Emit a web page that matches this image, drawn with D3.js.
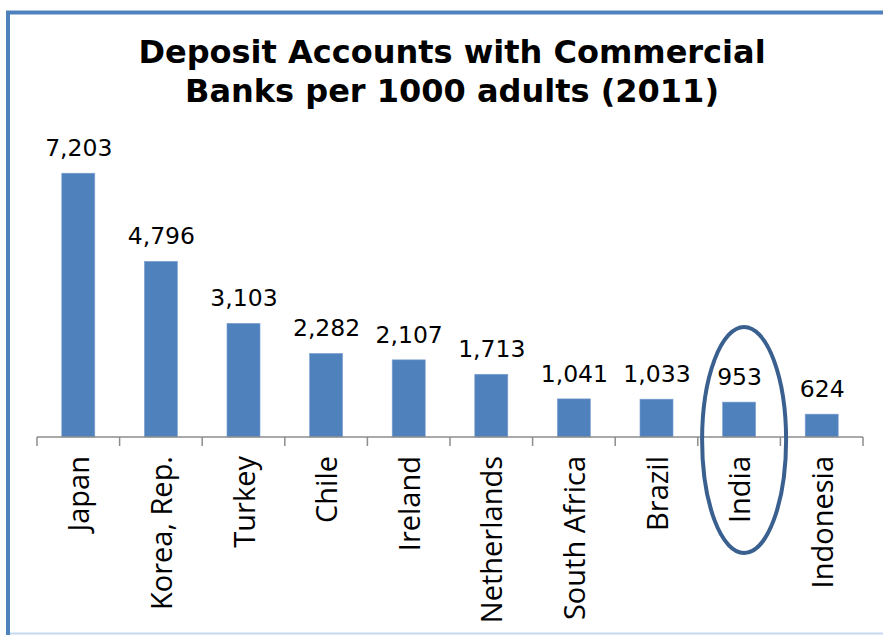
<!DOCTYPE html>
<html>
<head>
<meta charset="utf-8">
<script src="https://cdn.jsdelivr.net/npm/d3@7"></script>
<style>
  html, body { margin: 0; padding: 0; background: #fff; }
  svg { display: block; }
</style>
</head>
<body>
<svg id="chart" width="883" height="635"></svg>
<script>
// Deposit accounts with commercial banks per 1000 adults, 2011
const countries = ["Japan", "Korea, Rep.", "Turkey", "Chile", "Ireland",
                   "Netherlands", "South Africa", "Brazil", "India", "Indonesia"];
const accounts = [7203, 4796, 3103, 2282, 2107, 1713, 1041, 1033, 953, 624];
const titleLines = ["Deposit Accounts with Commercial", "Banks per 1000 adults (2011)"];
const highlighted = ["India"];

const W = 883, H = 635;
const svg = d3.select("#chart");

// outer frame: left and top edges dark blue, bottom edge pale
svg.append("path")
  .attr("d", `M8,${H} L8,12.5 L${W + 10},12.5`)
  .attr("fill", "none")
  .attr("stroke", "#4f81bd")
  .attr("stroke-width", 4);
svg.append("line")
  .attr("x1", 10).attr("x2", W)
  .attr("y1", 633.5).attr("y2", 633.5)
  .attr("stroke", "#c6d9f1")
  .attr("stroke-width", 2);

// title
const title = svg.append("text")
  .attr("text-anchor", "middle")
  .attr("font-family", "DejaVu Sans, Verdana, sans-serif")
  .attr("font-weight", "bold")
  .attr("font-size", 32)
  .attr("fill", "#000");
titleLines.forEach((line, i) => {
  title.append("tspan")
    .attr("x", 452)
    .attr("y", 63 + i * 39)
    .text(line);
});

// scales
const x = d3.scaleBand().domain(countries).range([37, 863]).padding(0);
const y = d3.scaleLinear().domain([0, 8000]).range([437, 144]);
const step = x.step();
const barW = step * 0.4;

// bars
svg.append("g").selectAll("rect")
  .data(countries)
  .join("rect")
  .attr("x", (d) => x(d) + (step - barW) / 2)
  .attr("width", barW)
  .attr("y", (d, i) => y(accounts[i]))
  .attr("height", (d, i) => y(0) - y(accounts[i]))
  .attr("fill", "#4f81bd")
  .attr("stroke", "#7fa3d0")
  .attr("stroke-width", 0.6);

// value labels
const fmt = d3.format(",");
svg.append("g").selectAll("text")
  .data(countries)
  .join("text")
  .attr("x", (d) => x(d) + step / 2 + 0.5)
  .attr("y", (d, i) => y(accounts[i]) - 17)
  .attr("text-anchor", "middle")
  .attr("font-family", "DejaVu Sans, Verdana, sans-serif")
  .attr("font-size", 23.5)
  .attr("fill", "#000")
  .text((d, i) => fmt(accounts[i]));

// category axis with ticks at band boundaries
const axis = svg.append("g");
axis.append("line")
  .attr("x1", x.range()[0]).attr("x2", x.range()[1])
  .attr("y1", y(0)).attr("y2", y(0))
  .attr("stroke", "#8c8c8c").attr("stroke-width", 1.5);
const boundaries = countries.map((d) => x(d)).concat([x.range()[1]]);
axis.selectAll("line.tick")
  .data(boundaries)
  .join("line")
  .attr("class", "tick")
  .attr("x1", (d) => d).attr("x2", (d) => d)
  .attr("y1", y(0)).attr("y2", y(0) + 9)
  .attr("stroke", "#8c8c8c").attr("stroke-width", 1.5);

// rotated category labels
axis.selectAll("text")
  .data(countries)
  .join("text")
  .attr("transform", (d) => `translate(${x(d) + step / 2 + 11},456) rotate(-90)`)
  .attr("text-anchor", "end")
  .attr("font-family", "Open Sans, Noto Sans, sans-serif")
  .attr("font-size", 29)
  .attr("fill", "#000")
  .text((d) => d);

// highlight ring around the chosen country
svg.append("g").selectAll("ellipse")
  .data(highlighted)
  .join("ellipse")
  .attr("cx", (d) => x(d) + step / 2 + 5)
  .attr("cy", 440)
  .attr("rx", 42)
  .attr("ry", 113)
  .attr("fill", "none")
  .attr("stroke", "#3a6090")
  .attr("stroke-width", 4);
</script>
</body>
</html>
